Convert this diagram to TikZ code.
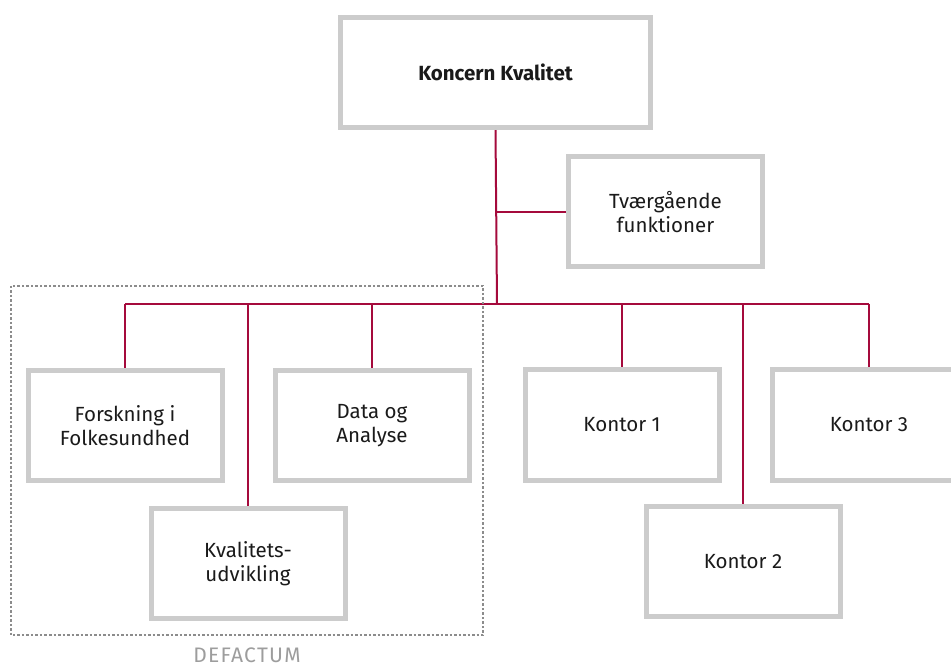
\documentclass[tikz,border=0pt]{standalone}
\usepackage{fontspec}
\setmainfont{Fira Sans}
\usetikzlibrary{positioning, backgrounds}
\definecolor{boxgray}{HTML}{CCCCCC}
\definecolor{linkred}{HTML}{A50A3C}
\definecolor{framegray}{HTML}{8C8C8C}
\definecolor{textdark}{HTML}{1A1A1A}

\begin{document}
\begin{tikzpicture}[
    x=1pt, y=-1pt,
    box/.style={rectangle, draw=boxgray, line width=5pt, fill=white, minimum width=194pt, minimum height=110pt, align=center, text=textdark, font=\fontsize{20.5}{24}\selectfont},
    link/.style={draw=linkred, line width=2pt},
    group/.style={draw=framegray, line width=1.3pt, dash pattern=on 2.5pt off 2pt}
]
    \useasboundingbox (0,0) rectangle (951,668);

    \node[box, minimum width=310pt, font=\fontsize{20.5}{24}\selectfont\bfseries] (koncern) at (495.5,72.5) {Koncern Kvalitet};
    \node[box] (tvaer) at (665.5,212) {Tværgående\\funktioner};

    \node[box] (forsk) at (125,425.5) {Forskning i\\Folkesundhed};
    \node[box] (data) at (372,425.5) {Data og\\Analyse};
    \node[box] (kval) at (248,563.5) {Kvalitets-\\udvikling};

    \node[box] (k1) at (622,425) {Kontor 1};
    \node[box] (k2) at (743,561.5) {Kontor 2};
    \node[box] (k3) at (869,425) {Kontor 3};

    \coordinate (bus) at (497,304);

    \begin{pgfonlayer}{background}
        \draw[link] (koncern.south) -- (bus);
        \draw[link] (koncern.south |- tvaer.west) -- (tvaer.west);
        \draw[link] (forsk.north |- bus) -- (k3.north |- bus);
        \foreach \n in {forsk, kval, data, k1, k2, k3}
            \draw[link] (\n.north |- bus) -- (\n.north);
    \end{pgfonlayer}

    % DEFACTUM group
    \draw[group] (11,286) rectangle (483,635);
    \node[text=framegray!85, font=\fontsize{21}{24}\selectfont\addfontfeature{LetterSpace=6}] (defactum) at (247,655) {DEFACTUM};
\end{tikzpicture}
\end{document}
